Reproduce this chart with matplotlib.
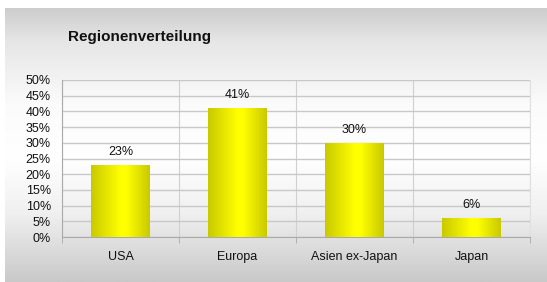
import numpy as np
import matplotlib
matplotlib.use("Agg")
import matplotlib.pyplot as plt
from matplotlib.colors import LinearSegmentedColormap

plt.rcParams['font.family'] = ['Liberation Sans', 'DejaVu Sans']

# data
regions = ['USA', 'Europa', 'Asien ex-Japan', 'Japan']
shares = [23, 41, 30, 6]
yticks = [0, 5, 10, 15, 20, 25, 30, 35, 40, 45, 50]
title = 'Regionenverteilung'

fig = plt.figure(figsize=(5.47, 2.82), dpi=100)
fig.patch.set_facecolor('white')

# gray-white-gray background panel
bg = fig.add_axes([5 / 547, 0, 542 / 547, 274 / 282], zorder=0)
bg_cmap = LinearSegmentedColormap.from_list(
    'bg', [(0.0, '#cdcdcd'), (0.12, '#e6e6e6'), (0.35, '#fbfbfb'),
           (0.55, '#ffffff'), (0.75, '#f0f0f0'), (1.0, '#c9c9c9')])
bg.imshow(np.linspace(0, 1, 256).reshape(-1, 1)[::-1], aspect='auto',
          cmap=bg_cmap, extent=[0, 1, 0, 1], origin='lower')
bg.axis('off')

ax = fig.add_axes([62 / 547, 45 / 282, 468 / 547, 157 / 282], zorder=1)
ax.patch.set_alpha(0)

x = np.arange(len(regions))
bars = ax.bar(x, shares, width=0.5, color='none', edgecolor='none', zorder=3)

bar_cmap = LinearSegmentedColormap.from_list(
    'bar', [(0.0, '#c9c900'), (0.5, '#ffff00'), (0.6, '#ffff00'), (1.0, '#c9c900')])
grad = np.linspace(0, 1, 256).reshape(1, -1)
for b, v in zip(bars, shares):
    x0, w, h = b.get_x(), b.get_width(), b.get_height()
    im = ax.imshow(grad, aspect='auto', cmap=bar_cmap,
                   extent=[x0, x0 + w, 0, h], zorder=3)
    im.set_clip_path(b)
    ax.annotate(f'{v}%', (x0 + w / 2, h), xytext=(0, 5),
                textcoords='offset points', ha='center', va='bottom',
                fontsize=9, color='#111111', zorder=4)

ax.set_xlim(-0.5, len(regions) - 0.5)
ax.set_ylim(0, 50)
ax.set_yticks(yticks)
ax.set_yticklabels([f'{t}%' for t in yticks])
ax.set_xticks(x)
ax.set_xticklabels(regions)
ax.set_xticks(np.arange(len(regions) + 1) - 0.5, minor=True)

ax.tick_params(axis='y', length=0, pad=8, labelsize=9, colors='#111111')
ax.tick_params(axis='x', which='major', length=0, pad=10, labelsize=9, colors='#111111')
ax.tick_params(axis='x', which='minor', length=4, direction='out', color='#aaaaaa')

ax.grid(axis='y', color='#c8c8c8', linewidth=1, zorder=1)
ax.grid(axis='x', which='minor', color='#d0d0d0', linewidth=0.8, zorder=1)
ax.set_axisbelow(True)

for s in ['top']:
    ax.spines[s].set_visible(False)
ax.spines['right'].set_color('#e0e0e0')
ax.spines['left'].set_color('#aaaaaa')
ax.spines['bottom'].set_color('#aaaaaa')

fig.text(68 / 547, (282 - 37) / 282, title, fontsize=11, fontweight='bold',
         ha='left', va='center', color='#111111')

fig.savefig('out.png', dpi=100)
